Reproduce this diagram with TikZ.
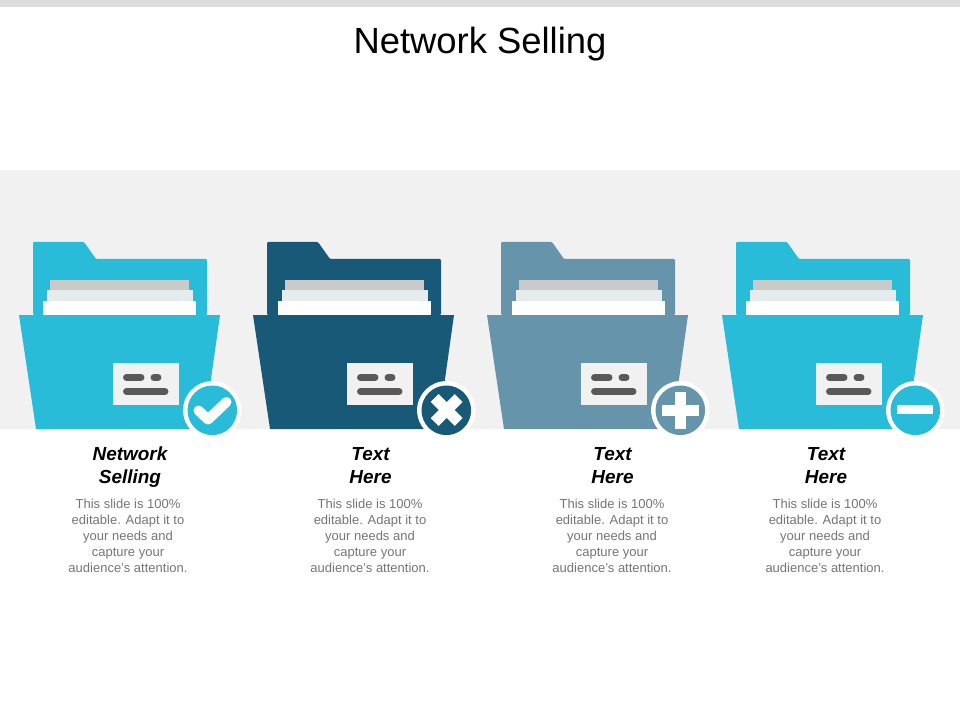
\documentclass[tikz,border=0pt]{standalone}
\usepackage{fontspec}
\setmainfont{Liberation Sans}
\definecolor{cyanfolder}{HTML}{28BCD9}
\definecolor{navyfolder}{HTML}{175976}
\definecolor{slatefolder}{HTML}{6594AB}
\definecolor{bandgray}{HTML}{F1F1F1}
\definecolor{topgray}{HTML}{DCDCDC}
\definecolor{papergray}{HTML}{C9CBCA}
\definecolor{paperlight}{HTML}{E6EBED}
\definecolor{dashgray}{HTML}{595959}
\definecolor{bodygray}{HTML}{767676}

\begin{document}
\begin{tikzpicture}
        [x=0.75pt,y=-0.75pt,
        titlelabel/.style={font=\fontsize{27.3}{32}\selectfont,text=black,inner sep=0pt},
        headlabel/.style={font=\fontsize{14.2}{17.25}\selectfont\bfseries\itshape,align=center,inner sep=0pt},
        bodylabel/.style={font=\fontsize{9.75}{12}\selectfont,text=bodygray,align=center,inner sep=0pt},
        dashline/.style={draw=dashgray,line width=5.2pt,line cap=round},
        iconline/.style={draw=white,line width=8pt},
        ]
        \useasboundingbox (0,0) rectangle (960,720);
        % Background bands
        \fill[white] (0,0) rectangle (960,720);
        \fill[topgray] (0,0) rectangle (960,7);
        \fill[bandgray] (0,170) rectangle (960,429);
        \node[titlelabel] (title) at (480,44) {Network Selling};
        % Folders
        \foreach \dx/\pdx/\col in {0/0/cyanfolder,234/1/navyfolder,468/1/slatefolder,703/0/cyanfolder}{
          \begin{scope}[shift={(\dx,0)}]
            \fill[\col,rounded corners=0.8pt] (33,315) -- (33,242) -- (84,242) -- (96,259) -- (207,259) -- (207,315) -- cycle;
            \fill[papergray] (50+\pdx,280) rectangle (189+\pdx,290);
            \fill[paperlight] (47+\pdx,290) rectangle (193+\pdx,301);
            \fill[white] (43+\pdx,301) rectangle (196+\pdx,315);
            \fill[\col] (19,315) -- (220,315) -- (204,429) -- (36,429) -- cycle;
            \fill[bandgray] (113,363) rectangle (178.5,405);
            \draw[dashline] (126.5,377.5) -- (141,377.5);
            \draw[dashline] (154,377.5) -- (158,377.5);
            \draw[dashline] (126.5,391.5) -- (165,391.5);
            % Round badge
            \fill[white] (212.3,410.3) circle (29.2);
            \fill[\col] (212.3,410.3) circle (24.8);
          \end{scope}
        }
        % Badge icons
        \draw[iconline,line width=7.5pt,line cap=round,line join=round] (198.5,410.5) -- (208,419.5) -- (226.5,402);
        \draw[iconline,line width=8.3pt] (434.7,398) -- (458.7,422);
        \draw[iconline,line width=8.3pt] (458.7,398) -- (434.7,422);
        \draw[iconline] (662,410.4) -- (699,410.4);
        \draw[iconline] (680.5,391.7) -- (680.5,429);
        \draw[iconline,line width=7pt] (896.7,409.8) -- (933.3,409.8);
        % Text
        \node[headlabel] (head1) at (130,467.5) {Network\\Selling};
        \node[headlabel] (head2) at (370.5,465.5) {Text\\Here};
        \node[headlabel] (head3) at (612.5,465.5) {Text\\Here};
        \node[headlabel] (head4) at (826,465.5) {Text\\Here};
        \foreach \n/\x in {1/128,2/370,3/612,4/825}{
          \node[bodylabel] (body\n) at (\x,536) {This slide is 100\%\\editable. Adapt it to\\your needs and\\capture your\\audience's attention.};
        }
\end{tikzpicture}
\end{document}
